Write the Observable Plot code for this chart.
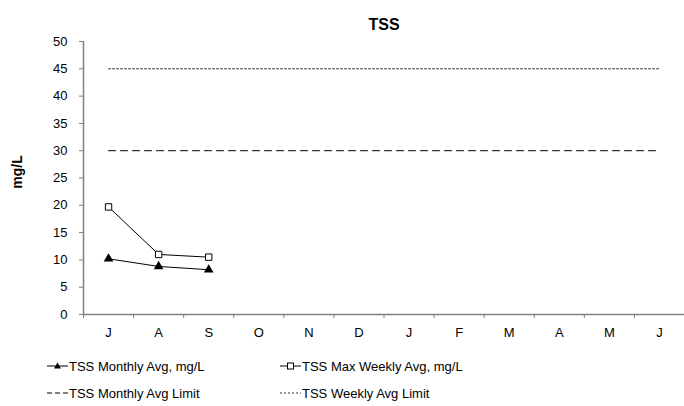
<!DOCTYPE html>
<html><head><meta charset="utf-8">
<script src="https://cdn.jsdelivr.net/npm/d3@7"></script>
<script src="https://cdn.jsdelivr.net/npm/@observablehq/plot@0.6"></script>
<style>
body{margin:0;background:#fff;font-family:"Liberation Sans",Arial,sans-serif;}
#wrap{width:684px;height:406px;position:relative;overflow:hidden;}
.leg{position:absolute;font-size:13px;color:#000;display:flex;align-items:center;white-space:nowrap;}
.leg svg{margin-right:1px;}
</style>
</head><body><div id="wrap"></div>
<script>
const months = ["J","A","S","O","N","D","J","F","M","A","M","J"];
const monthlyAvg = [10.2, 8.8, 8.2];
const maxWeeklyAvg = [19.7, 11.0, 10.5];
const monthlyLimit = [30,30,30,30,30,30,30,30,30,30,30,30];
const weeklyLimit = [45,45,45,45,45,45,45,45,45,45,45,45];
const yTicks = [0,5,10,15,20,25,30,35,40,45,50];
const title = "TSS";
const yLabel = "mg/L";
const legendLabels = ["TSS Monthly Avg, mg/L","TSS Max Weekly Avg, mg/L","TSS Monthly Avg Limit","TSS Weekly Avg Limit"];

const pts = (arr) => arr.map((v,i)=>({x:i+0.5, y:v}));
const monthPos = months.map((m,i)=>({x:i+0.5, label:m}));
const gray = "#808080";

const chart = Plot.plot({
  width: 684, height: 340,
  marginLeft: 83, marginRight: 0, marginTop: 41, marginBottom: 26,
  style: {fontFamily: '"Liberation Sans", Arial, sans-serif', fontSize: "13px", color:"#000", overflow:"visible"},
  x: {domain:[0, months.length], axis:null},
  y: {domain:[0,50], axis:null},
  marks: [
    Plot.axisY({ticks: yTicks, tickSize: 4, tickPadding: 12, stroke: gray, label: null, fontSize: 13}),
    Plot.axisX({ticks: d3.range(0, months.length+1), tickSize: 4, tickFormat: ()=>"", stroke: gray, label: null}),
    Plot.ruleY([0], {stroke: gray, strokeWidth: 1.5}),
    Plot.ruleX([0], {stroke: gray, strokeWidth: 1.5}),
    Plot.text(monthPos, {x:"x", text:"label", frameAnchor:"bottom", dy: 22, fontSize: 13}),
    Plot.line(pts(monthlyLimit), {x:"x", y:"y", stroke:"#000", strokeWidth:1, strokeDasharray:"7,5"}),
    Plot.line(pts(weeklyLimit), {x:"x", y:"y", stroke:"#333", strokeWidth:1, strokeDasharray:"2,2"}),
    Plot.line(pts(maxWeeklyAvg), {x:"x", y:"y", stroke:"#000", strokeWidth:1}),
    Plot.dot(pts(maxWeeklyAvg), {x:"x", y:"y", symbol:"square", r:3.6, fill:"#fff", stroke:"#000", strokeWidth:1}),
    Plot.line(pts(monthlyAvg), {x:"x", y:"y", stroke:"#000", strokeWidth:1}),
    Plot.dot(pts(monthlyAvg), {x:"x", y:"y", symbol:"triangle", r:3.6, fill:"#000", stroke:"none"}),
    Plot.text([title], {frameAnchor:"top", dy:-23, fontWeight:"bold", fontSize:16}),
    Plot.text([yLabel], {frameAnchor:"left", textAnchor:"middle", dx:-66, dy:-6, rotate:-90, fontWeight:"bold", fontSize:14})
  ]
});
const wrap = document.getElementById("wrap");
wrap.appendChild(chart);

function legItem(x, y, sym, text){
  const d = document.createElement("div");
  d.className = "leg";
  d.style.left = x + "px";
  d.style.top = (y - 9) + "px";
  d.innerHTML = `<svg width="21" height="18">${sym}</svg><span>${text}</span>`;
  wrap.appendChild(d);
}
legItem(47, 366, '<line x1="0" x2="21" y1="9" y2="9" stroke="#000"/><path d="M10.5,5.5 L14,11.5 L7,11.5Z" fill="#000"/>', legendLabels[0]);
legItem(280, 366, '<line x1="0" x2="21" y1="9" y2="9" stroke="#000"/><rect x="7.5" y="6" width="6" height="6" fill="#fff" stroke="#000"/>', legendLabels[1]);
legItem(47, 393, '<line x1="0" x2="21" y1="9" y2="9" stroke="#000" stroke-dasharray="5,3"/>', legendLabels[2]);
legItem(280, 393, '<line x1="0" x2="21" y1="9" y2="9" stroke="#333" stroke-dasharray="2,2"/>', legendLabels[3]);
</script>
</body></html>
